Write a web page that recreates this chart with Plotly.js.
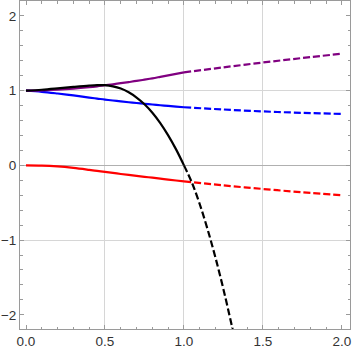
<!DOCTYPE html>
<html>
<head>
<meta charset="utf-8">
<script src="https://cdn.plot.ly/plotly-3.0.1.min.js"></script>
<style>
  html, body { margin: 0; padding: 0; background: #fff; }
  #plot { width: 354px; height: 351px; }
</style>
</head>
<body>
<div id="plot"></div>
<script>
// values: solid part on [0,1], dashed part past 1
const xSolid = [0, 0.1, 0.2, 0.3, 0.4, 0.45, 0.5, 0.55, 0.6, 0.65, 0.7, 0.75, 0.8, 0.85, 0.9, 0.95, 1.0];
const purpleSolid = [1, 1.004, 1.012, 1.026, 1.046, 1.058, 1.072, 1.085, 1.1, 1.115, 1.13, 1.147, 1.165, 1.185, 1.205, 1.225, 1.245];
const blueSolid = [1, 0.985, 0.962, 0.936, 0.907, 0.894, 0.88, 0.868, 0.856, 0.845, 0.835, 0.825, 0.815, 0.805, 0.795, 0.786, 0.778];
const redSolid = [0, -0.003, -0.014, -0.034, -0.06, -0.074, -0.088, -0.101, -0.115, -0.128, -0.14, -0.153, -0.165, -0.178, -0.19, -0.202, -0.214];
const blackSolid = [1, 1.012, 1.03, 1.05, 1.068, 1.074, 1.073, 1.058, 1.028, 0.978, 0.908, 0.818, 0.705, 0.566, 0.402, 0.214, 0];

const xDash = [1.0, 1.25, 1.5, 1.75, 2.0];
const purpleDash = [1.245, 1.312, 1.377, 1.437, 1.495];
const blueDash = [0.778, 0.748, 0.722, 0.703, 0.688];
const redDash = [-0.214, -0.268, -0.316, -0.36, -0.4];

const xBlackDash = [1.0, 1.05, 1.1, 1.15, 1.2, 1.25, 1.3, 1.33];
const blackDash = [0, -0.23, -0.52, -0.86, -1.24, -1.66, -2.12, -2.4];

const gridX = [0.5, 1, 1.5];
const gridY = [-1, 1];

const DASH = '7px,3px';

function solid(x, y, color) {
  return { x: x, y: y, mode: 'lines', type: 'scatter',
    line: { color: color, width: 2.2, shape: 'spline', smoothing: 1 }, hoverinfo: 'none' };
}
function dashed(x, y, color) {
  return { x: x, y: y, mode: 'lines', type: 'scatter',
    line: { color: color, width: 2.2, dash: DASH, shape: 'spline', smoothing: 1 }, hoverinfo: 'none' };
}

const traces = [
  { x: [], y: [], xaxis: 'x2', yaxis: 'y2', type: 'scatter', mode: 'lines' },
  solid(xSolid, redSolid, '#ff0000'),
  dashed(xDash, redDash, '#ff0000'),
  solid(xSolid, blueSolid, '#0000ff'),
  dashed(xDash, blueDash, '#0000ff'),
  solid(xSolid, purpleSolid, '#800080'),
  dashed(xDash, purpleDash, '#800080'),
  solid(xSolid, blackSolid, '#000000'),
  dashed(xBlackDash, blackDash, '#000000')
];

const xRange = [-0.038, 2.051];
const yRange = [-2.19, 2.2];
const frame = '#9a9a9a';
const tickFont = { family: 'Liberation Sans, Arial, sans-serif', size: 13.5, color: '#333' };

const layout = {
  width: 354,
  height: 351,
  margin: { l: 20, r: 4, t: 1, b: 22 },
  paper_bgcolor: '#fff',
  plot_bgcolor: '#fff',
  showlegend: false,
  xaxis: {
    range: xRange,
    dtick: 0.5,
    tick0: 0,
    tickformat: '.1f',
    ticks: 'inside',
    ticklen: 4,
    tickcolor: frame,
    minor: { dtick: 0.1, ticks: 'inside', ticklen: 2.5, tickcolor: frame, showgrid: false },
    showgrid: false,
    zeroline: false,
    showline: true,
    linecolor: frame,
    linewidth: 1,
    mirror: 'ticks',
    tickfont: tickFont
  },
  yaxis: {
    range: yRange,
    dtick: 1,
    tick0: 0,
    ticks: 'inside',
    ticklen: 4,
    tickcolor: frame,
    minor: { dtick: 0.2, ticks: 'inside', ticklen: 2.5, tickcolor: frame, showgrid: false },
    showgrid: false,
    zeroline: true,
    zerolinecolor: '#b0b0b0',
    zerolinewidth: 1,
    showline: true,
    linecolor: frame,
    linewidth: 1,
    mirror: 'ticks',
    tickfont: tickFont
  },
  xaxis2: {
    range: xRange, overlaying: 'x', anchor: 'y2',
    tickvals: gridX, showticklabels: false, ticks: '',
    showgrid: true, gridcolor: '#d6d6d6', gridwidth: 1, zeroline: false, showline: false
  },
  yaxis2: {
    range: yRange, overlaying: 'y', anchor: 'x2',
    tickvals: gridY, showticklabels: false, ticks: '',
    showgrid: true, gridcolor: '#d6d6d6', gridwidth: 1, zeroline: false, showline: false
  }
};

Plotly.newPlot('plot', traces, layout, { staticPlot: true, displayModeBar: false });
</script>
</body>
</html>
